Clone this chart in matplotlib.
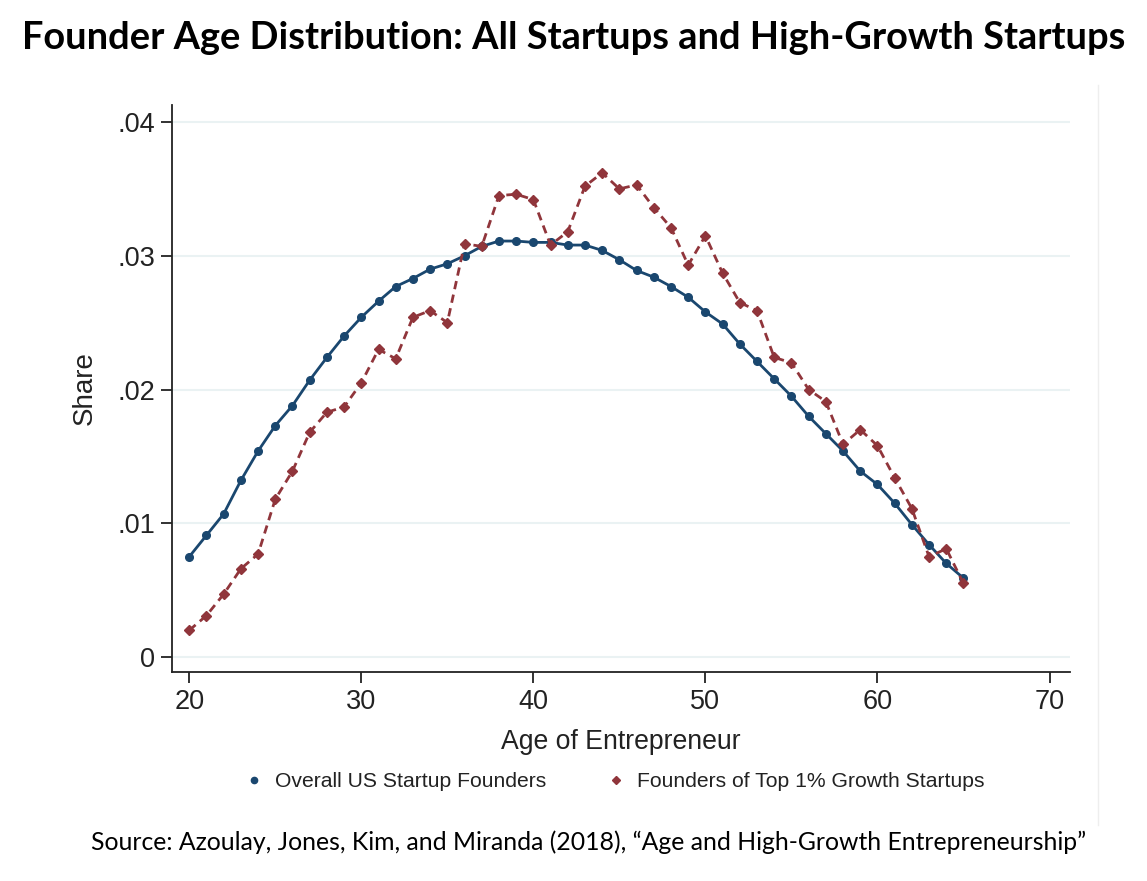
import matplotlib
matplotlib.use("Agg")
import matplotlib.pyplot as plt
from matplotlib import font_manager
from matplotlib.lines import Line2D

ages = list(range(20, 66))
overall = [0.0075, 0.0091, 0.0107, 0.0132, 0.0154, 0.0173, 0.0188, 0.0207, 0.0224, 0.0240,
           0.0254, 0.0266, 0.0277, 0.0283, 0.0290, 0.0294, 0.0300, 0.0307, 0.0311, 0.0311,
           0.0310, 0.0310, 0.0308, 0.0308, 0.0304, 0.0297, 0.0289, 0.0284, 0.0277, 0.0269,
           0.0258, 0.0249, 0.0234, 0.0221, 0.0208, 0.0195, 0.0180, 0.0167, 0.0154, 0.0139,
           0.0129, 0.0115, 0.0099, 0.0084, 0.0070, 0.0059]
top1 = [0.0020, 0.0031, 0.0047, 0.0066, 0.0077, 0.0118, 0.0139, 0.0168, 0.0183, 0.0187,
        0.0205, 0.0230, 0.0223, 0.0254, 0.0259, 0.0250, 0.0309, 0.0307, 0.0345, 0.0346,
        0.0342, 0.0308, 0.0318, 0.0352, 0.0362, 0.0350, 0.0353, 0.0336, 0.0321, 0.0293,
        0.0315, 0.0287, 0.0265, 0.0259, 0.0224, 0.0220, 0.0200, 0.0191, 0.0159, 0.0170,
        0.0158, 0.0134, 0.0111, 0.0075, 0.0081, 0.0055]
yticks = [0, 0.01, 0.02, 0.03, 0.04]
ytick_labels = ["0", ".01", ".02", ".03", ".04"]
xticks = [20, 30, 40, 50, 60, 70]

installed = {f.name for f in font_manager.fontManager.ttflist}
stata_font = "Liberation Sans Narrow" if "Liberation Sans Narrow" in installed else "Liberation Sans"
head_font = "Lato"

blue = "#1a476f"
red = "#90353b"

fig = plt.figure(figsize=(11.47, 8.81), dpi=100)
ax = fig.add_axes([0.150, 0.2372, 0.783, 0.6436])

ax.plot(ages, overall, color=blue, lw=2.0, marker="o", ms=5.5, zorder=3)
ax.plot(ages, top1, color=red, lw=2.0, ls=(0, (3, 2)), marker="D", ms=5, zorder=3)

ax.set_xlim(19.0, 71.2)
ax.set_ylim(-0.00112, 0.04127)
ax.set_xticks(xticks)
ax.set_yticks(yticks)
ax.set_yticklabels(ytick_labels)
ax.grid(axis="y", color="#eaf2f3", lw=1.5)
ax.set_axisbelow(True)
for s in ["top", "right"]:
    ax.spines[s].set_visible(False)
for s in ["left", "bottom"]:
    ax.spines[s].set_color("#222222")
    ax.spines[s].set_linewidth(1.3)
ax.tick_params(length=8, width=1.3, color="#222222", labelsize=19.5, pad=4, labelcolor="#222222")
for lab in ax.get_xticklabels() + ax.get_yticklabels():
    lab.set_fontfamily("Liberation Sans")
ax.set_xlabel("Age of Entrepreneur", fontsize=19.2, family=stata_font, labelpad=10, color="#222222")
ax.set_ylabel("Share", fontsize=20, family="Liberation Sans", labelpad=14, color="#222222")

handles = [Line2D([], [], color=blue, marker="o", ls="none", ms=4.5),
           Line2D([], [], color=red, marker="D", ls="none", ms=4.5)]
fig.legend(handles, ["Overall US Startup Founders", "Founders of Top 1% Growth Startups"],
           loc="center", bbox_to_anchor=(0.535, 0.1124), ncol=2, frameon=False,
           prop={"family": stata_font, "size": 15.2}, handletextpad=0.5, columnspacing=2.8,
           handlelength=1.0, labelcolor="#222222")

title = fig.text(0.5, 0.957, "Founder Age Distribution: All Startups and High-Growth Startups",
                 ha="center", va="center", fontsize=24, fontweight="bold", family=head_font)
source = fig.text(0.513, 0.044,
                  "Source: Azoulay, Jones, Kim, and Miranda (2018), \u201cAge and High-Growth Entrepreneurship\u201d",
                  ha="center", va="center", fontsize=15, family=head_font)

# fit header/footer text to the widths seen in the reference
r = fig.canvas.get_renderer()
for t, target in [(title, 1103), (source, 993)]:
    w = t.get_window_extent(r).width
    t.set_fontsize(t.get_fontsize() * target / w)

fig.add_artist(Line2D([1098 / 1147, 1098 / 1147], [1 - 85 / 881, 1 - 825 / 881],
                      transform=fig.transFigure, color="#eeeeee", lw=1))

fig.savefig("out.png", dpi=100, facecolor="white")
